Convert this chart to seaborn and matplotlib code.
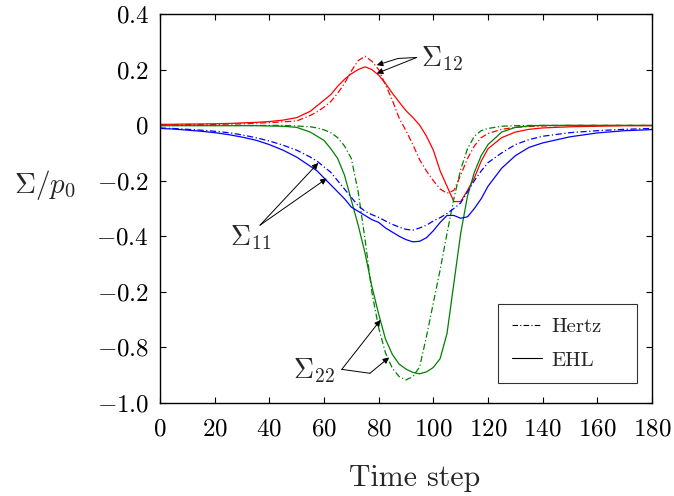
import matplotlib
matplotlib.use("Agg")
import matplotlib.pyplot as plt
import seaborn as sns
import pandas as pd
from matplotlib.lines import Line2D

# ---------------- data ----------------
time_step = [0, 5, 10, 15, 20, 25, 30, 35, 40, 45, 50, 55, 57.5, 60, 62.5, 65, 67.5, 70,
             72.5, 75, 77.5, 80, 82.5, 85, 87.5, 90, 92.5, 95, 97.5, 100, 102.5, 105,
             107.5, 110, 112.5, 115, 117.5, 120, 125, 130, 135, 140, 150, 160, 170, 180]

s12_ehl = [0.003, 0.003, 0.004, 0.004, 0.005, 0.006, 0.008, 0.010, 0.013, 0.018, 0.027,
           0.050, 0.070, 0.090, 0.110, 0.140, 0.165, 0.185, 0.200, 0.210, 0.200, 0.180,
           0.150, 0.115, 0.083, 0.052, 0.028, 0.000, -0.040, -0.090, -0.165, -0.220,
           -0.275, -0.275, -0.235, -0.190, -0.130, -0.085, -0.045, -0.025, -0.015,
           -0.010, -0.006, -0.004, -0.002, -0.002]
s12_hertz = [0.001, 0.002, 0.002, 0.003, 0.003, 0.004, 0.005, 0.007, 0.009, 0.012, 0.015,
             0.035, 0.048, 0.065, 0.085, 0.115, 0.150, 0.195, 0.232, 0.248, 0.230, 0.200,
             0.145, 0.090, 0.025, -0.020, -0.070, -0.125, -0.165, -0.200, -0.230, -0.245,
             -0.235, -0.180, -0.120, -0.075, -0.045, -0.030, -0.015, -0.008, -0.005,
             -0.003, -0.001, -0.001, -0.001, -0.001]
s22_ehl = [-0.002, -0.002, -0.002, -0.002, -0.002, -0.002, -0.002, -0.002, -0.003, -0.004,
           -0.008, -0.025, -0.040, -0.055, -0.085, -0.120, -0.180, -0.270, -0.360, -0.460,
           -0.580, -0.680, -0.770, -0.825, -0.860, -0.878, -0.890, -0.895, -0.888, -0.872,
           -0.840, -0.750, -0.570, -0.390, -0.255, -0.170, -0.110, -0.070, -0.025, -0.008,
           -0.003, -0.001, -0.001, -0.001, -0.001, -0.001]
s22_hertz = [-0.001, -0.001, -0.001, -0.001, -0.001, -0.001, -0.001, -0.001, -0.001, -0.001,
             -0.003, -0.006, -0.010, -0.017, -0.027, -0.045, -0.075, -0.120, -0.240, -0.410,
             -0.600, -0.730, -0.820, -0.875, -0.905, -0.917, -0.905, -0.870, -0.760, -0.640,
             -0.520, -0.390, -0.265, -0.160, -0.085, -0.040, -0.020, -0.012, -0.004, -0.002,
             -0.001, -0.001, -0.001, -0.001, -0.001, -0.001]
s11_ehl = [-0.012, -0.014, -0.018, -0.022, -0.027, -0.034, -0.043, -0.054, -0.070, -0.090,
           -0.115, -0.148, -0.165, -0.190, -0.215, -0.240, -0.265, -0.295, -0.310, -0.325,
           -0.340, -0.350, -0.370, -0.385, -0.400, -0.412, -0.420, -0.418, -0.405, -0.380,
           -0.350, -0.325, -0.325, -0.335, -0.330, -0.300, -0.265, -0.220, -0.155, -0.110,
           -0.080, -0.064, -0.042, -0.028, -0.020, -0.016]
s11_hertz = [-0.010, -0.012, -0.015, -0.018, -0.022, -0.027, -0.035, -0.045, -0.057, -0.072,
             -0.090, -0.115, -0.130, -0.150, -0.170, -0.200, -0.230, -0.260, -0.290, -0.310,
             -0.322, -0.332, -0.345, -0.357, -0.367, -0.375, -0.378, -0.370, -0.360, -0.345,
             -0.333, -0.318, -0.300, -0.280, -0.240, -0.200, -0.165, -0.135, -0.100, -0.070,
             -0.052, -0.040, -0.027, -0.020, -0.015, -0.012]

x_ticks = [0, 20, 40, 60, 80, 100, 120, 140, 160, 180]
y_ticks = [0.4, 0.2, 0.0, -0.2, -0.4, -0.6, -0.8, -1.0]
y_tick_labels = ["0.4", "0.2", "0", "-0.2", "-0.4", "-0.2", "-0.8", "-1.0"]

# ---------------- style ----------------
sns.set_style("ticks")
plt.rcParams["font.family"] = ["serif"]
plt.rcParams["font.serif"] = ["cmr10", "DejaVu Serif"]
plt.rcParams["mathtext.fontset"] = "cm"
plt.rcParams["axes.unicode_minus"] = False
plt.rcParams["axes.formatter.use_mathtext"] = True

fig = plt.figure(figsize=(6.74, 4.96), dpi=100)
ax = fig.add_axes([160 / 674, 1 - 403 / 496, 492 / 674, 389 / 496])

dashdot = (0, (5, 2, 1, 2))
series = [
    (s12_hertz, "red", dashdot), (s12_ehl, "red", "-"),
    (s22_hertz, "green", dashdot), (s22_ehl, "green", "-"),
    (s11_hertz, "blue", dashdot), (s11_ehl, "blue", "-"),
]
for vals, col, ls in series:
    df = pd.DataFrame({"t": time_step, "v": vals})
    sns.lineplot(data=df, x="t", y="v", ax=ax, color=col, linestyle=ls,
                 linewidth=0.9, sort=False, estimator=None)

ax.set_xlim(0, 180)
ax.set_ylim(-1.0, 0.4)
ax.set_xticks(x_ticks)
ax.set_xticklabels([f"${v}$" for v in x_ticks])
ax.set_yticks(y_ticks)
ax.set_yticklabels([f"${s}$" for s in y_tick_labels])
ax.tick_params(direction="in", length=4, width=0.8, top=True, right=True,
               labelsize=18, colors="black")
ax.tick_params(axis="x", pad=11)
ax.tick_params(axis="y", pad=8)
for sp in ax.spines.values():
    sp.set_linewidth(1.0)
    sp.set_color("black")

ax.set_xlabel("Time step", fontsize=21.5, va="center")
ax.xaxis.set_label_coords(0.518, -0.193)
ax.set_ylabel(r"$\Sigma/p_0$", fontsize=21, rotation=0, ha="center", va="center")
ax.yaxis.set_label_coords(-0.234, 0.56)

# legend
handles = [Line2D([], [], color="black", lw=0.8, linestyle=dashdot),
           Line2D([], [], color="black", lw=0.8, linestyle="-")]
leg = ax.legend(handles, ["Hertz", "EHL"], loc="lower left",
                bbox_to_anchor=(0.687, 0.051, 0.2825, 0.2), mode="expand",
                borderaxespad=0, fontsize=15, handlelength=1.45, handletextpad=0.45,
                frameon=True, fancybox=False, edgecolor="black",
                borderpad=0.65, labelspacing=0.7)
leg.get_frame().set_linewidth(0.8)

# annotations
aprops = dict(arrowstyle="-|>", color="black", lw=0.7, mutation_scale=9,
              shrinkA=0, shrinkB=0)
# Sigma_12
ax.text(103.2, 0.241, r"$\Sigma_{12}$", fontsize=20, ha="center", va="center")
ax.plot([93.9, 87.1], [0.2435, 0.240], color="black", lw=0.7)
ax.annotate("", xy=(79.3, 0.216), xytext=(87.1, 0.240), arrowprops=aprops)
ax.annotate("", xy=(79.3, 0.186), xytext=(93.9, 0.2435), arrowprops=aprops)
# Sigma_11
ax.text(33.3, -0.406, r"$\Sigma_{11}$", fontsize=20, ha="center", va="center")
ax.annotate("", xy=(57.9, -0.136), xytext=(36.6, -0.36), arrowprops=aprops)
ax.annotate("", xy=(61.0, -0.192), xytext=(36.6, -0.36), arrowprops=aprops)
# Sigma_22
ax.text(56.3, -0.885, r"$\Sigma_{22}$", fontsize=20, ha="center", va="center")
ax.annotate("", xy=(80.7, -0.701), xytext=(66.5, -0.879), arrowprops=aprops)
ax.plot([66.5, 76.8], [-0.879, -0.893], color="black", lw=0.7)
ax.annotate("", xy=(83.8, -0.836), xytext=(76.8, -0.893), arrowprops=aprops)

fig.savefig("out.png", dpi=100)
